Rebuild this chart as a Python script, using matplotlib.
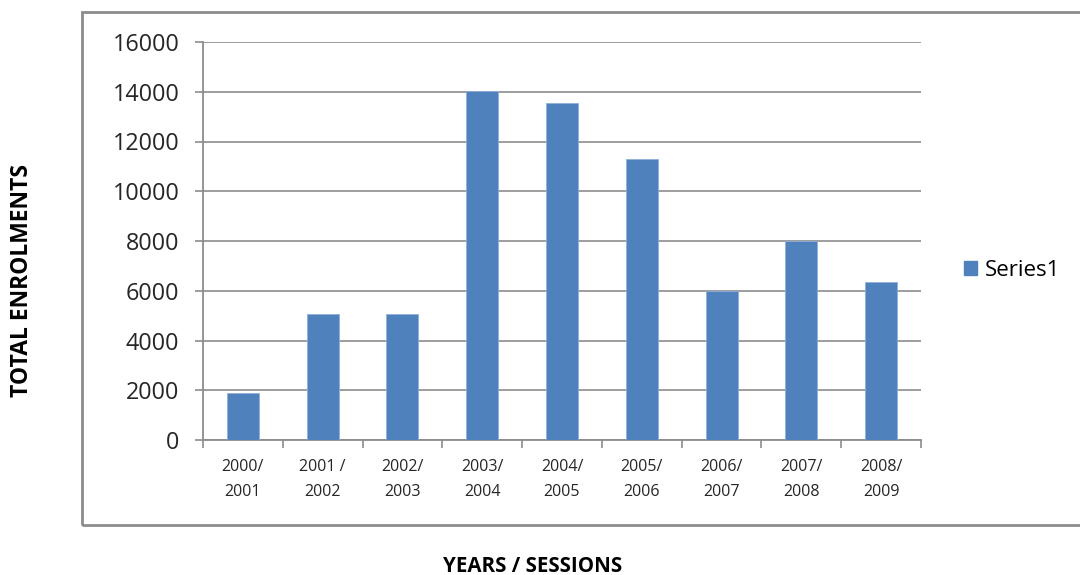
import matplotlib
matplotlib.use("Agg")
import matplotlib.pyplot as plt
from matplotlib.patches import Rectangle, Patch
import numpy as np

categories = ["2000/\n2001", "2001 /\n2002", "2002/\n2003", "2003/\n2004", "2004/\n2005",
              "2005/\n2006", "2006/\n2007", "2007/\n2008", "2008/\n2009"]
values = [1900, 5050, 5050, 14050, 13550, 11300, 6000, 8000, 6350]
yticks = [0, 2000, 4000, 6000, 8000, 10000, 12000, 14000, 16000]
series_name = "Series1"

W, H = 1080, 575
fig = plt.figure(figsize=(W / 100, H / 100), dpi=100)
fig.patch.set_facecolor("white")

# outer chart frame
fig.add_artist(Rectangle((82 / W, 1 - 525 / H), (1100 - 82) / W, (525 - 12) / H,
                         transform=fig.transFigure, fill=False,
                         edgecolor="#8c8c8c", linewidth=2.0, clip_on=False))

ax = fig.add_axes([203 / W, 1 - 440 / H, (921 - 203) / W, (440 - 42) / H])
x = np.arange(len(categories))
bars = ax.bar(x, values, width=0.40, color="#4F81BD", edgecolor="#8fb0dc",
              linewidth=0.6, zorder=3, label=series_name)

ax.set_xlim(-0.5, len(categories) - 0.5)
ax.set_ylim(0, 16000)
ax.set_yticks(yticks)
ax.set_yticklabels([str(v) for v in yticks], fontfamily="Open Sans", fontsize=16.8,
                   color="#262626")
ax.grid(axis="y", color="#8c8c8c", linewidth=1.2, zorder=0)
ax.tick_params(axis="y", length=6, width=1.2, color="#8c8c8c", pad=11)

# category boundary ticks and centered labels
ax.set_xticks(np.arange(-0.5, len(categories), 1.0))
ax.set_xticklabels([])
ax.tick_params(axis="x", which="major", length=6, width=1.2, color="#8c8c8c")
ax.set_xticks(x, minor=True)
ax.set_xticklabels(categories, minor=True, fontfamily="Open Sans", fontsize=11.5,
                   color="#262626", linespacing=1.7)
ax.tick_params(axis="x", which="minor", length=0, pad=14)

for s in ["top", "right"]:
    ax.spines[s].set_visible(False)
for s in ["left", "bottom"]:
    ax.spines[s].set_color("#8c8c8c")
    ax.spines[s].set_linewidth(1.3)

fig.text(22 / W, 1 - 280 / H, "TOTAL ENROLMENTS", rotation=90, ha="center", va="center",
         fontfamily="Open Sans", fontweight="bold", fontsize=16.5, color="black")
fig.text(533 / W, 1 - 566 / H, "YEARS / SESSIONS", ha="center", va="center",
         fontfamily="Open Sans", fontweight="bold", fontsize=14.8, color="black")

handle = Patch(facecolor="#4F81BD", edgecolor="#4F81BD")
fig.legend([handle], [series_name], loc="center left",
           bbox_to_anchor=(955 / W, 1 - 270 / H), frameon=False,
           prop={"family": "Open Sans", "size": 16}, handlelength=0.6,
           handleheight=0.6, handletextpad=0.35, borderaxespad=0)

fig.savefig("out.png", dpi=100, facecolor="white")
